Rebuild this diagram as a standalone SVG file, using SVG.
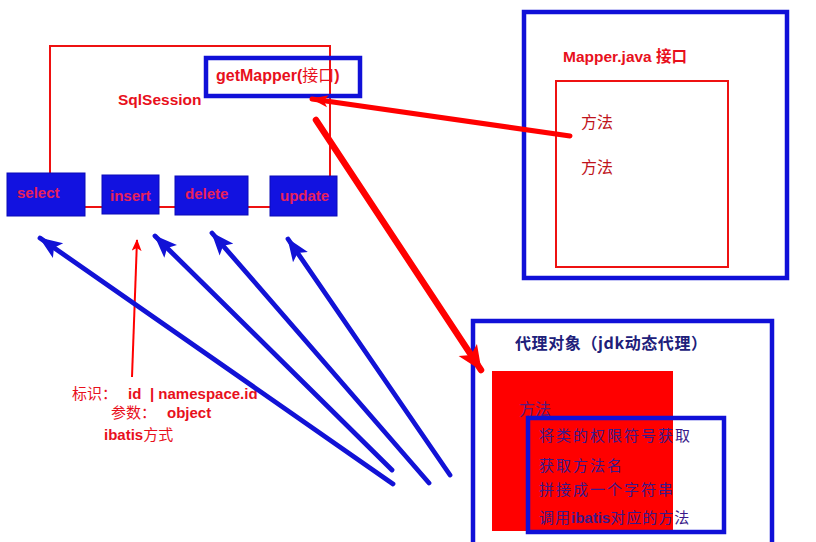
<svg xmlns="http://www.w3.org/2000/svg" width="816" height="542" viewBox="0 0 816 542">
  <defs>
    <marker id="blueHead" markerUnits="userSpaceOnUse" markerWidth="24" markerHeight="20" refX="22" refY="10" orient="auto">
      <path d="M0,1 L23,10 L0,19 L5,10 Z" fill="#1212d6"/>
    </marker>
    <marker id="redHead" markerUnits="userSpaceOnUse" markerWidth="26" markerHeight="24" refX="24" refY="12" orient="auto">
      <path d="M0,1 L25,12 L0,23 L6,12 Z" fill="#ff0000"/>
    </marker>
    <marker id="redHeadSmall" markerUnits="userSpaceOnUse" markerWidth="18" markerHeight="14" refX="16" refY="7" orient="auto">
      <path d="M0,1 L17,7 L0,13 L4,7 Z" fill="#ff0000"/>
    </marker>
    <marker id="redHeadThin" markerUnits="userSpaceOnUse" markerWidth="12" markerHeight="10" refX="11" refY="5" orient="auto">
      <path d="M0,0 L12,5 L0,10 L3,5 Z" fill="#ff0000"/>
    </marker>
  </defs>
  <style>
    .latin { font-family: "Liberation Sans", Arial, "Noto Sans CJK SC", sans-serif; font-weight: bold; }
    .cjk { font-family: "Noto Sans CJK SC", sans-serif; }
    .red { fill: #e8101c; }
    .op { fill: #e8205a; font-size: 15px; }
    .blueBox { fill: #1212e0; stroke: #0a0ab8; stroke-width: 1; }
    .frame { fill: none; stroke: #1010d8; stroke-width: 4.5; }
    .redFrame { fill: none; stroke: #ee1111; stroke-width: 2; }
    .navy { fill: #20207a; }
    .blueLink { stroke: #1212d6; stroke-width: 4.8; fill: none; stroke-linecap: round; marker-end: url(#blueHead); }
  </style>
  <rect width="816" height="542" fill="#ffffff"/>

  <!-- SqlSession -->
  <g id="sqlsession">
    <rect x="50" y="46" width="280" height="161" class="redFrame"/>
    <text x="118" y="105" class="latin red" font-size="15.5">SqlSession</text>
  </g>
  <g id="getMapper">
    <rect x="206" y="58" width="154" height="38" class="frame"/>
    <text x="216" y="81" class="latin red" font-size="16">getMapper(<tspan class="cjk" font-weight="normal">接口</tspan>)</text>
  </g>
  <g id="select">
    <rect x="7" y="173" width="78" height="43" class="blueBox"/>
    <text x="17" y="198" class="latin op">select</text>
  </g>
  <g id="insert">
    <rect x="102" y="175" width="57" height="39" class="blueBox"/>
    <text x="110" y="201" class="latin op">insert</text>
  </g>
  <g id="delete">
    <rect x="175" y="176" width="73" height="39" class="blueBox"/>
    <text x="185" y="199" class="latin op">delete</text>
  </g>
  <g id="update">
    <rect x="270" y="176" width="67" height="40" class="blueBox"/>
    <text x="280" y="201" class="latin op">update</text>
  </g>

  <!-- Mapper interface -->
  <g id="mapperJava">
    <rect x="524" y="12" width="263" height="266" class="frame"/>
    <rect x="556" y="81" width="172" height="186" class="redFrame"/>
    <text x="563" y="62" class="latin red" font-size="15.5">Mapper.java <tspan class="cjk">接口</tspan></text>
    <text x="581" y="128" class="cjk" fill="#c0141c" font-size="16">方法</text>
    <text x="581" y="173" class="cjk" fill="#c0141c" font-size="16">方法</text>
  </g>

  <!-- Proxy object -->
  <g id="proxy">
    <rect x="473" y="321" width="299" height="230" class="frame"/>
    <text x="515" y="349" class="cjk navy" font-size="16" font-weight="bold" letter-spacing="0.6">代理对象（jdk动态代理）</text>
    <rect x="492" y="371" width="181" height="160" fill="#ff0000"/>
    <text x="519" y="415" class="cjk" fill="#5a1a7a" font-size="16">方法</text>
    <rect x="528" y="418" width="196" height="114" class="frame"/>
    <g class="cjk" font-size="15" fill="#3a1a8a" letter-spacing="2">
      <text x="539" y="441">将类的权限符号获取</text>
      <text x="539" y="471">获取方法名</text>
      <text x="539" y="495">拼接成一个字符串</text>
      <text x="539" y="523" letter-spacing="1">调用<tspan class="latin" font-weight="bold" letter-spacing="0">ibatis</tspan>对应的方法</text>
    </g>
  </g>

  <!-- ibatis note -->
  <g id="ibatisNote">
    <text x="72" y="399" class="red" font-size="15"><tspan class="cjk">标识：</tspan><tspan class="latin" x="128">id</tspan><tspan class="latin" x="150">| namespace.id</tspan></text>
    <text x="111" y="418" class="red" font-size="15"><tspan class="cjk">参数：</tspan><tspan class="latin" x="167">object</tspan></text>
    <text x="104" y="440" class="red" font-size="15"><tspan class="latin">ibatis</tspan><tspan class="cjk">方式</tspan></text>
  </g>

  <!-- connectors -->
  <g id="connectors">
    <line x1="570" y1="136" x2="312" y2="99" stroke="#ff0000" stroke-width="5" stroke-linecap="round" marker-end="url(#redHeadSmall)"/>
    <line x1="316" y1="120" x2="481" y2="370" stroke="#ff0000" stroke-width="6.5" stroke-linecap="round" marker-end="url(#redHead)"/>
    <line x1="132" y1="377" x2="137" y2="240" stroke="#ff0000" stroke-width="2" marker-end="url(#redHeadThin)"/>
    <line x1="393" y1="484" x2="40" y2="238" class="blueLink"/>
    <line x1="392" y1="470" x2="155" y2="236" class="blueLink"/>
    <line x1="429" y1="483" x2="212" y2="233" class="blueLink"/>
    <line x1="450" y1="475" x2="288" y2="239" class="blueLink"/>
  </g>
</svg>
